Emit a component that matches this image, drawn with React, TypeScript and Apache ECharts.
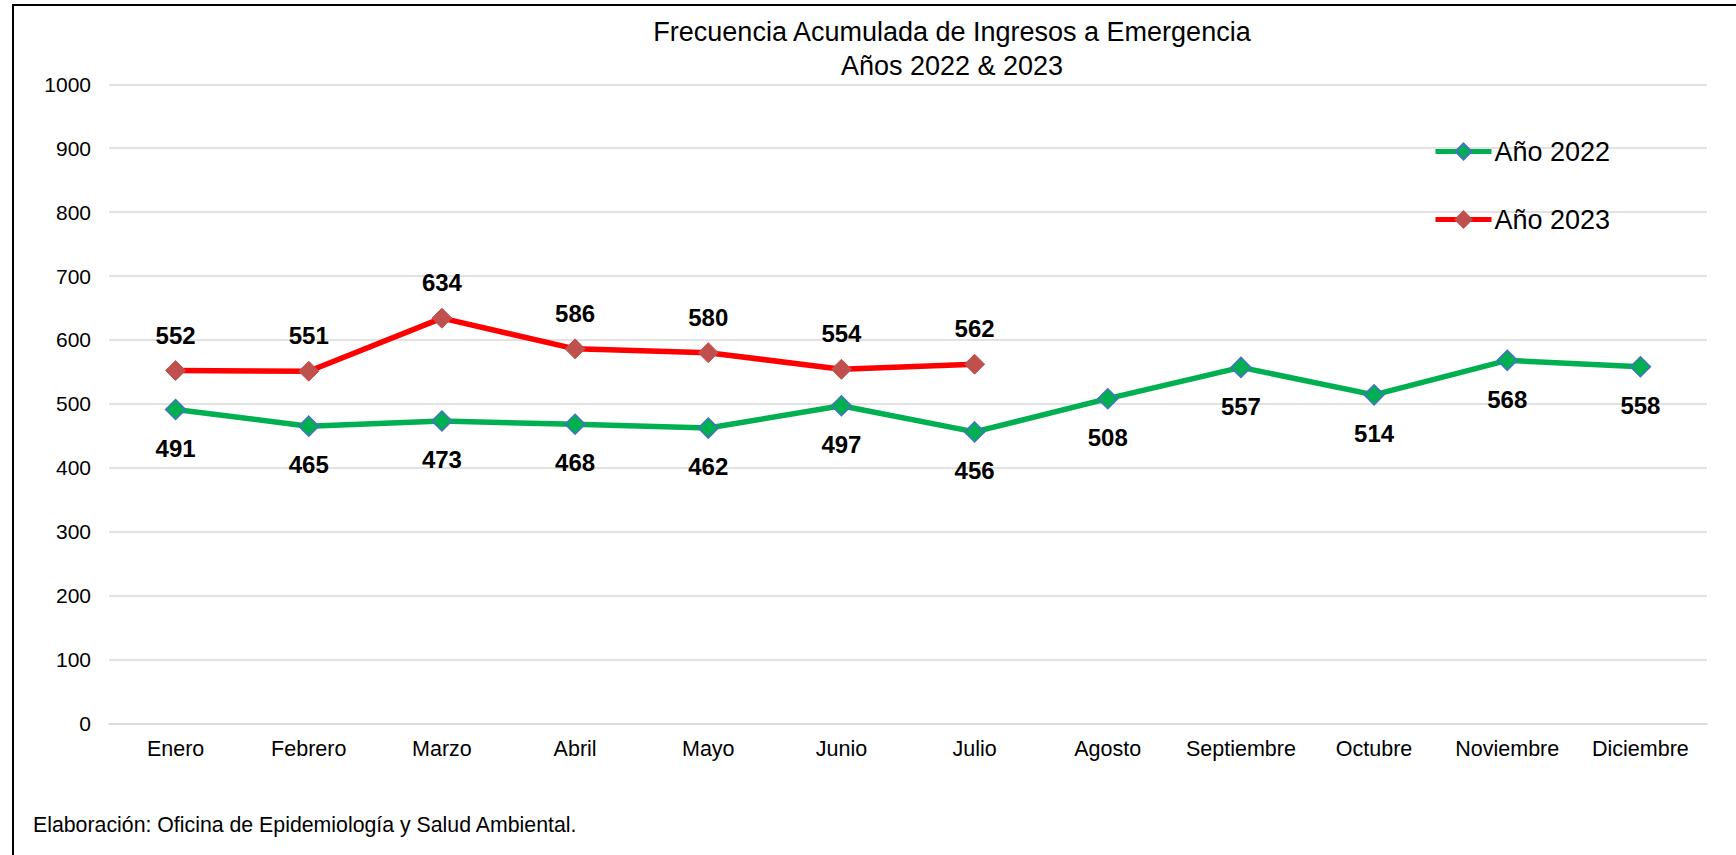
import React, { useEffect, useRef } from "react";
import * as echarts from "echarts";

const categories = ["Enero", "Febrero", "Marzo", "Abril", "Mayo", "Junio", "Julio", "Agosto", "Septiembre", "Octubre", "Noviembre", "Diciembre"];
const values2022 = [491, 465, 473, 468, 462, 497, 456, 508, 557, 514, 568, 558];
const values2023 = [552, 551, 634, 586, 580, 554, 562];
const yTicks = { min: 0, max: 1000, interval: 100 };
const titleLines = ["Frecuencia Acumulada de Ingresos a Emergencia", "Años 2022 & 2023"];
const footerText = "Elaboración: Oficina de Epidemiología y Salud Ambiental.";

const FONT = "'Liberation Sans', Arial, sans-serif";

export default function App() {
  const ref = useRef<HTMLDivElement>(null);
  useEffect(() => {
    if (!ref.current) return;
    const chart = echarts.init(ref.current, null, { renderer: "svg" });
    chart.setOption({
      animation: false,
      backgroundColor: "#ffffff",
      textStyle: { fontFamily: FONT },
      graphic: [
        {
          type: "rect",
          shape: { x: 13, y: 5, width: 1900, height: 1000 },
          style: { fill: "none", stroke: "#000000", lineWidth: 2 },
          silent: true,
        },
        {
          type: "text",
          x: 952,
          y: 32,
          style: { text: titleLines[0], fontSize: 27, fontFamily: FONT, fill: "#000", align: "center", verticalAlign: "middle" },
        },
        {
          type: "text",
          x: 952,
          y: 66,
          style: { text: titleLines[1], fontSize: 27, fontFamily: FONT, fill: "#000", align: "center", verticalAlign: "middle" },
        },
        {
          type: "text",
          x: 33,
          y: 825,
          style: { text: footerText, fontSize: 21.3, fontFamily: FONT, fill: "#000", align: "left", verticalAlign: "middle" },
        },
      ],
      grid: { left: 109, top: 84.3, width: 1598, height: 639, containLabel: false },
      legend: {
        orient: "vertical",
        left: 1428,
        top: 133,
        itemWidth: 56,
        itemHeight: 20,
        itemGap: 41,
        lineStyle: { width: 5 },
        textStyle: { fontSize: 27, fontFamily: FONT, color: "#000", padding: [0, 0, 0, -2] },
        data: ["Año 2022", "Año 2023"],
      },
      xAxis: {
        type: "category",
        data: categories,
        boundaryGap: true,
        axisLine: { show: true, lineStyle: { color: "#d9d9d9", width: 1.5 } },
        axisTick: { show: false },
        axisLabel: { interval: 0, fontSize: 21.5, fontFamily: FONT, color: "#000", margin: 15 },
      },
      yAxis: {
        type: "value",
        min: yTicks.min,
        max: yTicks.max,
        interval: yTicks.interval,
        axisLine: { show: false },
        axisTick: { show: false },
        splitLine: { lineStyle: { color: "#d9d9d9", width: 1.5 } },
        axisLabel: { fontSize: 21, fontFamily: FONT, color: "#000", margin: 18, formatter: (v: number) => String(v) },
      },
      series: [
        {
          name: "Año 2022",
          type: "line",
          data: values2022,
          symbol: "diamond",
          symbolSize: 20,
          lineStyle: { color: "#00B050", width: 5.5 },
          itemStyle: { color: "#00B050", borderColor: "#4472C4", borderWidth: 1.5 },
          label: { show: true, position: "bottom", distance: 16, fontSize: 24, fontWeight: "bold", color: "#000", fontFamily: FONT },
        },
        {
          name: "Año 2023",
          type: "line",
          data: values2023,
          symbol: "diamond",
          symbolSize: 20,
          lineStyle: { color: "#FF0000", width: 5.5 },
          itemStyle: { color: "#C0504D", borderColor: "#C0504D", borderWidth: 1 },
          label: { show: true, position: "top", distance: 13, fontSize: 24, fontWeight: "bold", color: "#000", fontFamily: FONT },
        },
      ],
    });
    return () => chart.dispose();
  }, []);
  return <div ref={ref} style={{ position: "fixed", left: 0, top: 0, width: 1736, height: 855 }} />;
}
